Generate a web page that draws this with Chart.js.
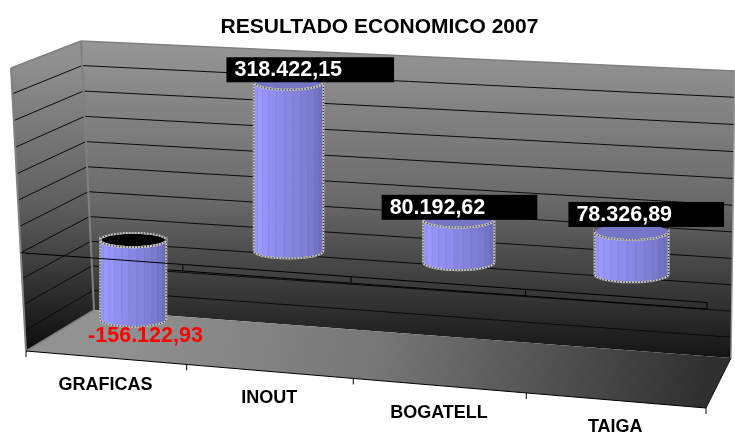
<!DOCTYPE html>
<html>
<head>
<meta charset="utf-8">
<style>
  html, body { margin: 0; padding: 0; background: #fff; }
  canvas { display: block; }
</style>
</head>
<body>
<canvas id="chart" width="735" height="437"></canvas>
<script src="https://cdn.jsdelivr.net/npm/chart.js@4"></script>
<script>
const categories = ["GRAFICAS", "INOUT", "BOGATELL", "TAIGA"];
const resultado = [-156122.93, 318422.15, 80192.62, 78326.89];
const gridValues = [300000, 250000, 200000, 150000, 100000, 50000, 0, -50000, -100000, -150000];
const axisMin = -190000;
const axisMax = 348000;

// corners of the 3D box on screen: top-left, top-right, bottom-right, bottom-left
const frontCorners = [[11, 68], [709, 104], [706, 408], [26, 351]];
const backCorners = [[81, 41], [735, 71], [731, 358], [94, 310]];

// where each value box sits relative to the top of its cylinder
const boxShift = [null, [-62, 0], [-77, 0], [-63, -5]];

const FONT = '"Liberation Sans", Arial, sans-serif';

function quadMap(c) {
  const [x0, y0] = c[0], [x1, y1] = c[1], [x2, y2] = c[2], [x3, y3] = c[3];
  const dx1 = x1 - x2, dx2 = x3 - x2, sx = x0 - x1 + x2 - x3;
  const dy1 = y1 - y2, dy2 = y3 - y2, sy = y0 - y1 + y2 - y3;
  const den = dx1 * dy2 - dx2 * dy1;
  const g = (sx * dy2 - dx2 * sy) / den;
  const h = (dx1 * sy - sx * dy1) / den;
  return (u, v) => {
    const w = g * u + h * v + 1;
    return [
      ((x1 - x0 + g * x1) * u + (x3 - x0 + h * x3) * v + x0) / w,
      ((y1 - y0 + g * y1) * u + (y3 - y0 + h * y3) * v + y0) / w,
    ];
  };
}

const frontMap = quadMap(frontCorners);
const backMap = quadMap(backCorners);

// u, v are 0..1 across the chart area, depth 0 is the front and 1 the back
function project(u, v, depth) {
  const f = frontMap(u, v);
  const b = backMap(u, v);
  return [f[0] + (b[0] - f[0]) * depth, f[1] + (b[1] - f[1]) * depth];
}

function polygon(ctx, pts) {
  ctx.beginPath();
  pts.forEach((p, i) => (i ? ctx.lineTo(p[0], p[1]) : ctx.moveTo(p[0], p[1])));
  ctx.closePath();
}

function line(ctx, a, b, color, width) {
  ctx.strokeStyle = color;
  ctx.lineWidth = width;
  ctx.beginPath();
  ctx.moveTo(a[0], a[1]);
  ctx.lineTo(b[0], b[1]);
  ctx.stroke();
}

function uOf(chart, px) {
  return (px - chart.chartArea.left) / chart.chartArea.width;
}

function vOf(chart, value) {
  return (chart.scales.y.getPixelForValue(value) - chart.chartArea.top) / chart.chartArea.height;
}

function zeroEdge(chart, u, drop) {
  const p = project(u, vOf(chart, 0), 0);
  return [p[0], p[1] + drop];
}

function drawBox(chart) {
  const ctx = chart.ctx;
  ctx.save();
  const wallFill = ctx.createLinearGradient(0, 41, 0, 358);
  wallFill.addColorStop(0, "#969696");
  wallFill.addColorStop(0.5, "#6a6a6a");
  wallFill.addColorStop(1, "#141414");
  const sideFill = ctx.createLinearGradient(0, 60, 0, 351);
  sideFill.addColorStop(0, "#909090");
  sideFill.addColorStop(0.5, "#5e5e5e");
  sideFill.addColorStop(1, "#0c0c0c");
  const floorFill = ctx.createLinearGradient(120, 310, 700, 410);
  floorFill.addColorStop(0, "#929292");
  floorFill.addColorStop(0.45, "#767676");
  floorFill.addColorStop(1, "#303030");

  polygon(ctx, [backCorners[0], backCorners[1], backCorners[2], backCorners[3]]);
  ctx.fillStyle = wallFill;
  ctx.fill();
  polygon(ctx, [frontCorners[0], backCorners[0], backCorners[3], frontCorners[3]]);
  ctx.fillStyle = sideFill;
  ctx.fill();

  gridValues.forEach((val) => {
    const v = vOf(chart, val);
    line(ctx, project(0, v, 0), project(0, v, 1), "#0a0a0a", 1);
    line(ctx, project(0, v, 1), project(1, v, 1), "#0a0a0a", 1);
  });

  polygon(ctx, [frontCorners[3], backCorners[3], backCorners[2], frontCorners[2]]);
  ctx.fillStyle = floorFill;
  ctx.fill();

  // wall edges
  line(ctx, backCorners[0], backCorners[1], "#808080", 1.5);
  line(ctx, backCorners[0], backCorners[3], "#808080", 2);
  line(ctx, frontCorners[0], backCorners[0], "#808080", 1.5);
  line(ctx, frontCorners[0], frontCorners[3], "#808080", 2);
  line(ctx, backCorners[3], frontCorners[3], "#808080", 1.5);
  line(ctx, backCorners[1], backCorners[2], "#9a9a9a", 1.5);

  // front of the floor and its ticks
  line(ctx, frontCorners[3], frontCorners[2], "#000", 1);
  line(ctx, frontCorners[2], backCorners[2], "#111", 1);
  for (let i = 0; i <= categories.length; i++) {
    const p = project(i / categories.length, 1, 0);
    line(ctx, p, [p[0], p[1] + 6], "#000", 1);
  }

  // lower edge of the zero plate, it runs behind the cylinders
  line(ctx, zeroEdge(chart, 0.125, 6.5), zeroEdge(chart, 1, 6.5), "#000", 1);
  for (let i = 1; i <= categories.length; i++) {
    const u = i / categories.length;
    line(ctx, zeroEdge(chart, u, 0), zeroEdge(chart, u, 6.5), "#000", 1);
  }
  ctx.restore();
}

function rim(cx, cy, rx, ry, from, to, steps) {
  const pts = [];
  for (let i = 0; i <= steps; i++) {
    const t = from + ((to - from) * i) / steps;
    pts.push([cx + rx * Math.cos(t), cy + ry * Math.sin(t)]);
  }
  return pts;
}

function dotted(ctx, pts, closed) {
  ctx.beginPath();
  pts.forEach((p, i) => (i ? ctx.lineTo(p[0], p[1]) : ctx.moveTo(p[0], p[1])));
  if (closed) ctx.closePath();
  ctx.setLineDash([]);
  ctx.strokeStyle = "#c4c4c4";
  ctx.lineWidth = 2;
  ctx.stroke();
  ctx.setLineDash([1, 2]);
  ctx.strokeStyle = "#333";
  ctx.lineWidth = 1.5;
  ctx.stroke();
  ctx.setLineDash([]);
}

function drawCylinder(chart, bar, value) {
  const ctx = chart.ctx;
  const u = uOf(chart, bar.x);
  const du = bar.width / 2 / chart.chartArea.width;
  const top = Math.min(bar.y, bar.base);
  const bottom = Math.max(bar.y, bar.base);
  const vTop = (top - chart.chartArea.top) / chart.chartArea.height;
  const vBottom = (bottom - chart.chartArea.top) / chart.chartArea.height;
  const a = project(u - du, vTop, 0.5);
  const b = project(u + du, vTop, 0.5);
  const c = project(u, vTop, 0.5);
  const d = project(u, vBottom, 0.5);
  const rx = (b[0] - a[0]) / 2;
  const ry = rx * 0.215;
  const cx = (a[0] + b[0]) / 2;
  const facets = 13;

  ctx.save();
  for (let i = 0; i < facets; i++) {
    const t0 = Math.PI - (Math.PI * i) / facets;
    const t1 = Math.PI - (Math.PI * (i + 1)) / facets;
    const up = rim(cx, c[1], rx, ry, t0, t1, 1);
    const low = rim(cx, d[1], rx, ry, t1, t0, 1);
    const k = i < 2 ? 0.18 - i * 0.09 : (i - 2) / (facets - 3);
    polygon(ctx, up.concat(low));
    const shade = [153 - 45 * k, 153 - 45 * k, 255 - 70 * k].map(Math.round);
    ctx.fillStyle = `rgb(${shade.join(",")})`;
    ctx.strokeStyle = ctx.fillStyle;
    ctx.lineWidth = 0.6;
    ctx.fill();
    ctx.stroke();
    line(ctx, up[1], low[0], "rgba(70,70,140,0.35)", 0.6);
  }

  const cap = rim(cx, c[1], rx, ry, 0, Math.PI * 2, 28);
  polygon(ctx, cap);
  ctx.fillStyle = value < 0 ? "#000" : "#7676c6";
  ctx.fill();

  const outline = rim(cx, c[1], rx, ry, Math.PI, 0, 14).concat(rim(cx, d[1], rx, ry, 0, Math.PI, 14));
  dotted(ctx, outline, true);
  dotted(ctx, rim(cx, c[1], rx, ry, Math.PI, 0, 14).reverse(), false);
  if (value < 0) dotted(ctx, cap, true);
  ctx.restore();
  return c;
}

function formatValue(v) {
  return v.toLocaleString("es-ES", { minimumFractionDigits: 2, maximumFractionDigits: 2 });
}

const cylinderPlugin = {
  id: "cylinders",
  beforeDatasetsDraw(chart) {
    drawBox(chart);
  },
  afterDatasetsDraw(chart) {
    const ctx = chart.ctx;
    const bars = chart.getDatasetMeta(0).data;
    const tops = bars.map((bar, i) => drawCylinder(chart, bar, resultado[i]));

    ctx.save();
    line(ctx, zeroEdge(chart, 0, 0), zeroEdge(chart, 1, 0), "#000", 1);

    ctx.textBaseline = "middle";
    ctx.font = "bold 21.5px " + FONT;
    resultado.forEach((val, i) => {
      const text = formatValue(val);
      const top = tops[i];
      if (val < 0) {
        const end = project(uOf(chart, bars[i].x), vOf(chart, val), 0.5);
        ctx.fillStyle = "#ff0000";
        ctx.fillText(text, top[0] - 45, end[1] + 17);
        return;
      }
      const w = ctx.measureText(text).width;
      const left = top[0] + boxShift[i][0];
      const boxBottom = top[1] + boxShift[i][1];
      ctx.fillStyle = "#000";
      ctx.fillRect(left, boxBottom - 25, w + 60, 25);
      ctx.fillStyle = "#fff";
      ctx.fillText(text, left + 8, boxBottom - 12);
    });

    ctx.font = "bold 18px " + FONT;
    ctx.textAlign = "center";
    ctx.fillStyle = "#000";
    categories.forEach((name, i) => {
      const p = project(uOf(chart, chart.scales.x.getPixelForTick(i)), 1, 0);
      ctx.fillText(name, p[0], p[1] + 27);
    });
    ctx.restore();
  },
};

new Chart(document.getElementById("chart"), {
  type: "bar",
  data: {
    labels: categories,
    datasets: [
      {
        label: "Resultado",
        data: resultado,
        backgroundColor: "transparent",
        barPercentage: 0.42,
        categoryPercentage: 1,
      },
    ],
  },
  options: {
    responsive: false,
    animation: false,
    layout: { padding: { left: 24, right: 0, top: 8, bottom: 8 } },
    plugins: {
      legend: { display: false },
      tooltip: { enabled: false },
      title: {
        display: true,
        text: "RESULTADO ECONOMICO 2007",
        color: "#000",
        font: { family: FONT, size: 21, weight: "bold" },
        padding: { top: 7, bottom: 10 },
      },
    },
    scales: {
      x: { display: false },
      y: { display: false, min: axisMin, max: axisMax },
    },
  },
  plugins: [cylinderPlugin],
});
</script>
</body>
</html>
